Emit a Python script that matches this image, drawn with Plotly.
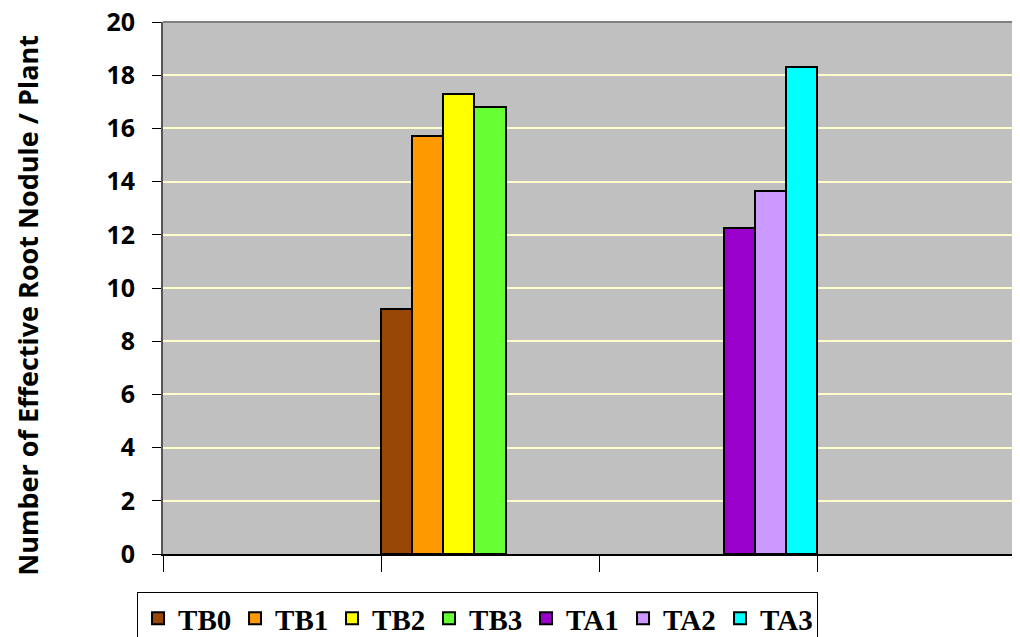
import plotly.graph_objects as go

categories = ["G1", "G2", "G3", "G4"]
series_names = ["TB0", "TB1", "TB2", "TB3", "TA1", "TA2", "TA3"]
colors = ["#994706", "#FF9900", "#FFFF00", "#66FF33", "#9900CC", "#CC99FF", "#00FFFF"]
TB0 = [None, 9.2, None, None]
TB1 = [None, 15.7, None, None]
TB2 = [None, 17.3, None, None]
TB3 = [None, 16.8, None, None]
TA1 = [None, None, 12.25, None]
TA2 = [None, None, 13.65, None]
TA3 = [None, None, 18.3, None]
values = [TB0, TB1, TB2, TB3, TA1, TA2, TA3]
y_ticks = [0, 2, 4, 6, 8, 10, 12, 14, 16, 18, 20]
y_title = "Number of Effective Root Nodule / Plant"

fig = go.Figure()
for name, col, vals in zip(series_names, colors, values):
    fig.add_trace(go.Bar(x=categories, y=vals, name=name,
                         marker=dict(color=col, line=dict(color="black", width=2))))

fig.update_layout(
    width=1012, height=629,
    margin=dict(l=155, r=0, t=14, b=83, autoexpand=False),
    paper_bgcolor="white",
    plot_bgcolor="#C0C0C0",
    barmode="group", bargap=0, bargroupgap=0,
    showlegend=True,
    legend=dict(orientation="h", x=-0.0303, y=-0.0714, xanchor="left", yanchor="top",
                bordercolor="black", borderwidth=1, bgcolor="white",
                font=dict(family="Liberation Serif", size=29, color="black", weight="bold"),
                itemwidth=30, tracegroupgap=0, entrywidth=52, entrywidthmode="pixels"),
    font=dict(family="Open Sans", color="black"),
)
fig.update_xaxes(range=[-0.5, 3.431], showticklabels=False, tickson="boundaries",
                 ticks="outside", ticklen=16, tickcolor="black", tickwidth=1,
                 showline=True, linecolor="black", linewidth=2, showgrid=False, zeroline=False,
                 mirror=False)
fig.update_yaxes(range=[0, 20], tickvals=y_ticks, ticks="outside", ticklen=9, tickcolor="black",
                 ticklabelstandoff=12, ticklabeloverflow="allow",
                 tickfont=dict(family="Open Sans", size=25, color="black", weight="bold"),
                 showline=True, linecolor="#555555", linewidth=2,
                 gridcolor="#FFFFCC", gridwidth=2, zeroline=False)
fig.add_annotation(text=y_title, textangle=-90, xref="paper", yref="paper",
                   x=-0.159, y=0.468, xanchor="center", yanchor="middle", showarrow=False,
                   font=dict(family="Open Sans", size=27, color="black", weight="bold"))
# top border of plot area
fig.add_shape(type="line", xref="paper", yref="paper", x0=0, x1=1, y0=1, y1=1,
              line=dict(color="#808080", width=2))

fig.write_html("out.html")
